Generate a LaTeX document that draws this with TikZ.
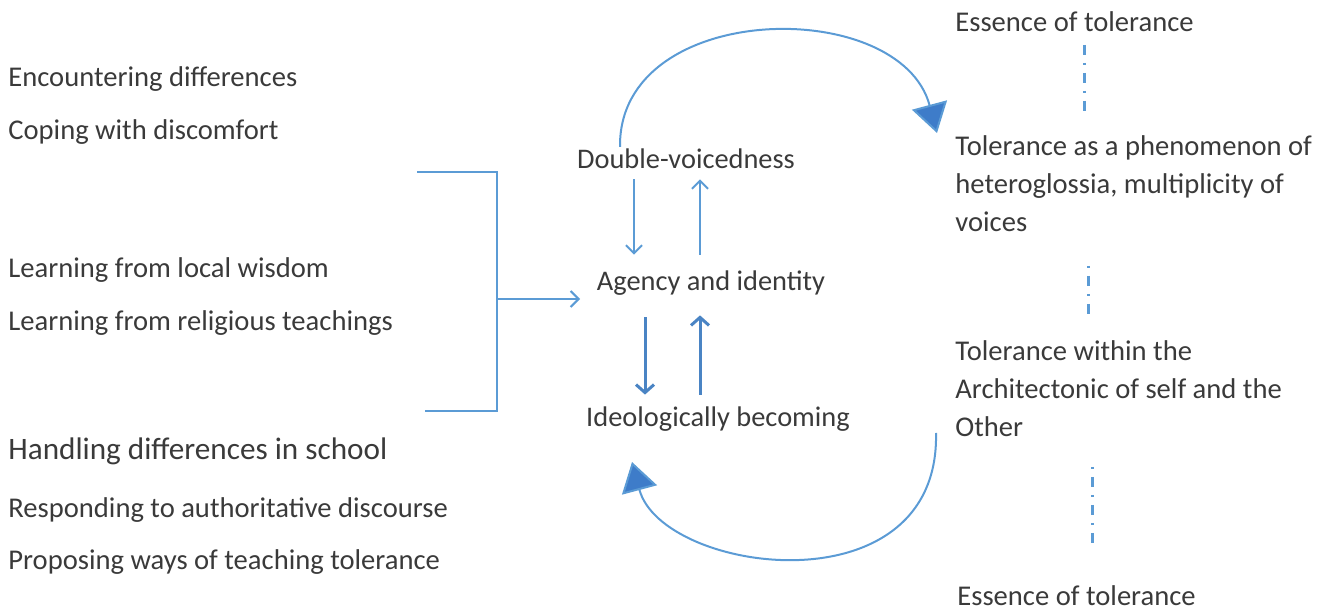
\documentclass[tikz,border=0pt]{standalone}
\usepackage{fontspec}
\setmainfont{Carlito}
\usetikzlibrary{arrows.meta, positioning, calc}
\definecolor{lineblue}{HTML}{5B9BD5}
\definecolor{darkblue}{HTML}{4A84C4}
\definecolor{headblue}{HTML}{3E7CC9}
\definecolor{txtgray}{HTML}{3A3A3A}

\begin{document}
\begin{tikzpicture}[
    x=0.5pt, y=-0.5pt,
    lbl/.style={anchor=west, inner sep=0pt, text=txtgray, text height=9pt, text depth=3pt, font=\fontsize{14.3}{19}\selectfont},
    para/.style={anchor=north west, inner sep=0pt, text=txtgray, align=left, font=\fontsize{14.3}{19}\selectfont},
    stage/.style={inner sep=0pt, text=txtgray, text height=9pt, text depth=3pt, font=\fontsize{14.2}{19}\selectfont},
    thinarrow/.style={draw=lineblue, line width=1pt, -{Straight Barb[length=4pt, width=8pt, line width=1pt]}},
    thickarrow/.style={draw=darkblue, line width=1.5pt, -{Straight Barb[length=4pt, width=9pt, line width=1.5pt]}},
    cycle arc/.style={draw=lineblue, line width=1pt, -{Triangle[length=14.5pt, width=18pt, fill=headblue]}},
    dashdot/.style={draw=lineblue, line width=1.5pt, dash pattern=on 5pt off 4pt on 1pt off 4pt}
]
\useasboundingbox (0,0) rectangle (1333,613);

% Left column
\node[lbl] (enc) at (8,81) {Encountering differences};
\node[lbl] (cope) at (8,134) {Coping with discomfort};
\node[lbl] (local) at (8,272) {Learning from local wisdom};
\node[lbl] (relig) at (8,325) {Learning from religious teachings};
\node[lbl, font=\fontsize{15.6}{19}\selectfont] (school) at (8,454) {Handling differences in school};
\node[lbl] (resp) at (8,512) {Responding to authoritative discourse};
\node[lbl] (prop) at (8,564) {Proposing ways of teaching tolerance};

% Middle
\node[stage] (dv) at (686,163) {Double-voicedness};
\node[stage] (ag) at (711,285) {Agency and identity};
\node[stage] (ib) at (718,421) {Ideologically becoming};

% Right column
\node[lbl] (ess1) at (955,26) {Essence of tolerance};
\node[para] (hetero) at (955,135) {Tolerance as a phenomenon of\\heteroglossia, multiplicity of\\voices};
\node[para] (archi) at (955,340) {Tolerance within the\\Architectonic of self and the\\Other};
\node[lbl] (ess2) at (957,600) {Essence of tolerance};

% Bracket
\coordinate (brtop) at (417,172);
\coordinate (brbot) at (425,411);
\coordinate (brmid) at (497,299);
\coordinate (agin) at (580,299);
\draw[draw=lineblue, line width=1pt] (brtop) -- (497,172) -- (497,411) -- (brbot);
\draw[thinarrow] (brmid) -- (agin);

% Arrows between stages
\draw[thinarrow] ([xshift=-26pt, yshift=-2pt]dv.south) -- ([xshift=-38.5pt, yshift=9pt]ag.north);
\draw[thinarrow] ([xshift=-5.5pt, yshift=9pt]ag.north) -- ([xshift=7pt, yshift=-2pt]dv.south);
\draw[thickarrow] ([xshift=-33pt, yshift=-10pt]ag.south) -- ([xshift=-36.5pt, yshift=7pt]ib.north);
\draw[thickarrow] ([xshift=-9pt, yshift=7pt]ib.north) -- ([xshift=-5.5pt, yshift=-9pt]ag.south);

% Cycle arcs
\coordinate (arcA) at (620,147);
\coordinate (arcB) at (937,133);
\coordinate (arcC) at (936,433);
\coordinate (arcD) at (632,462);
\draw[cycle arc] (arcA) .. controls (618,0) and (900,-5) .. (arcB);
\draw[cycle arc] (arcC) .. controls (940,612) and (662,574) .. (arcD);

% Dash-dot links
\coordinate (d1a) at (1084,45);
\coordinate (d1b) at (1084,113);
\coordinate (d2a) at (1088,266);
\coordinate (d2b) at (1088,316);
\coordinate (d3a) at (1092,467);
\coordinate (d3b) at (1092,547);
\draw[dashdot] (d1a) -- (d1b);
\draw[dashdot, dash phase=9pt] (d2a) -- (d2b);
\draw[dashdot, dash phase=9pt] (d3a) -- (d3b);

\end{tikzpicture}
\end{document}
